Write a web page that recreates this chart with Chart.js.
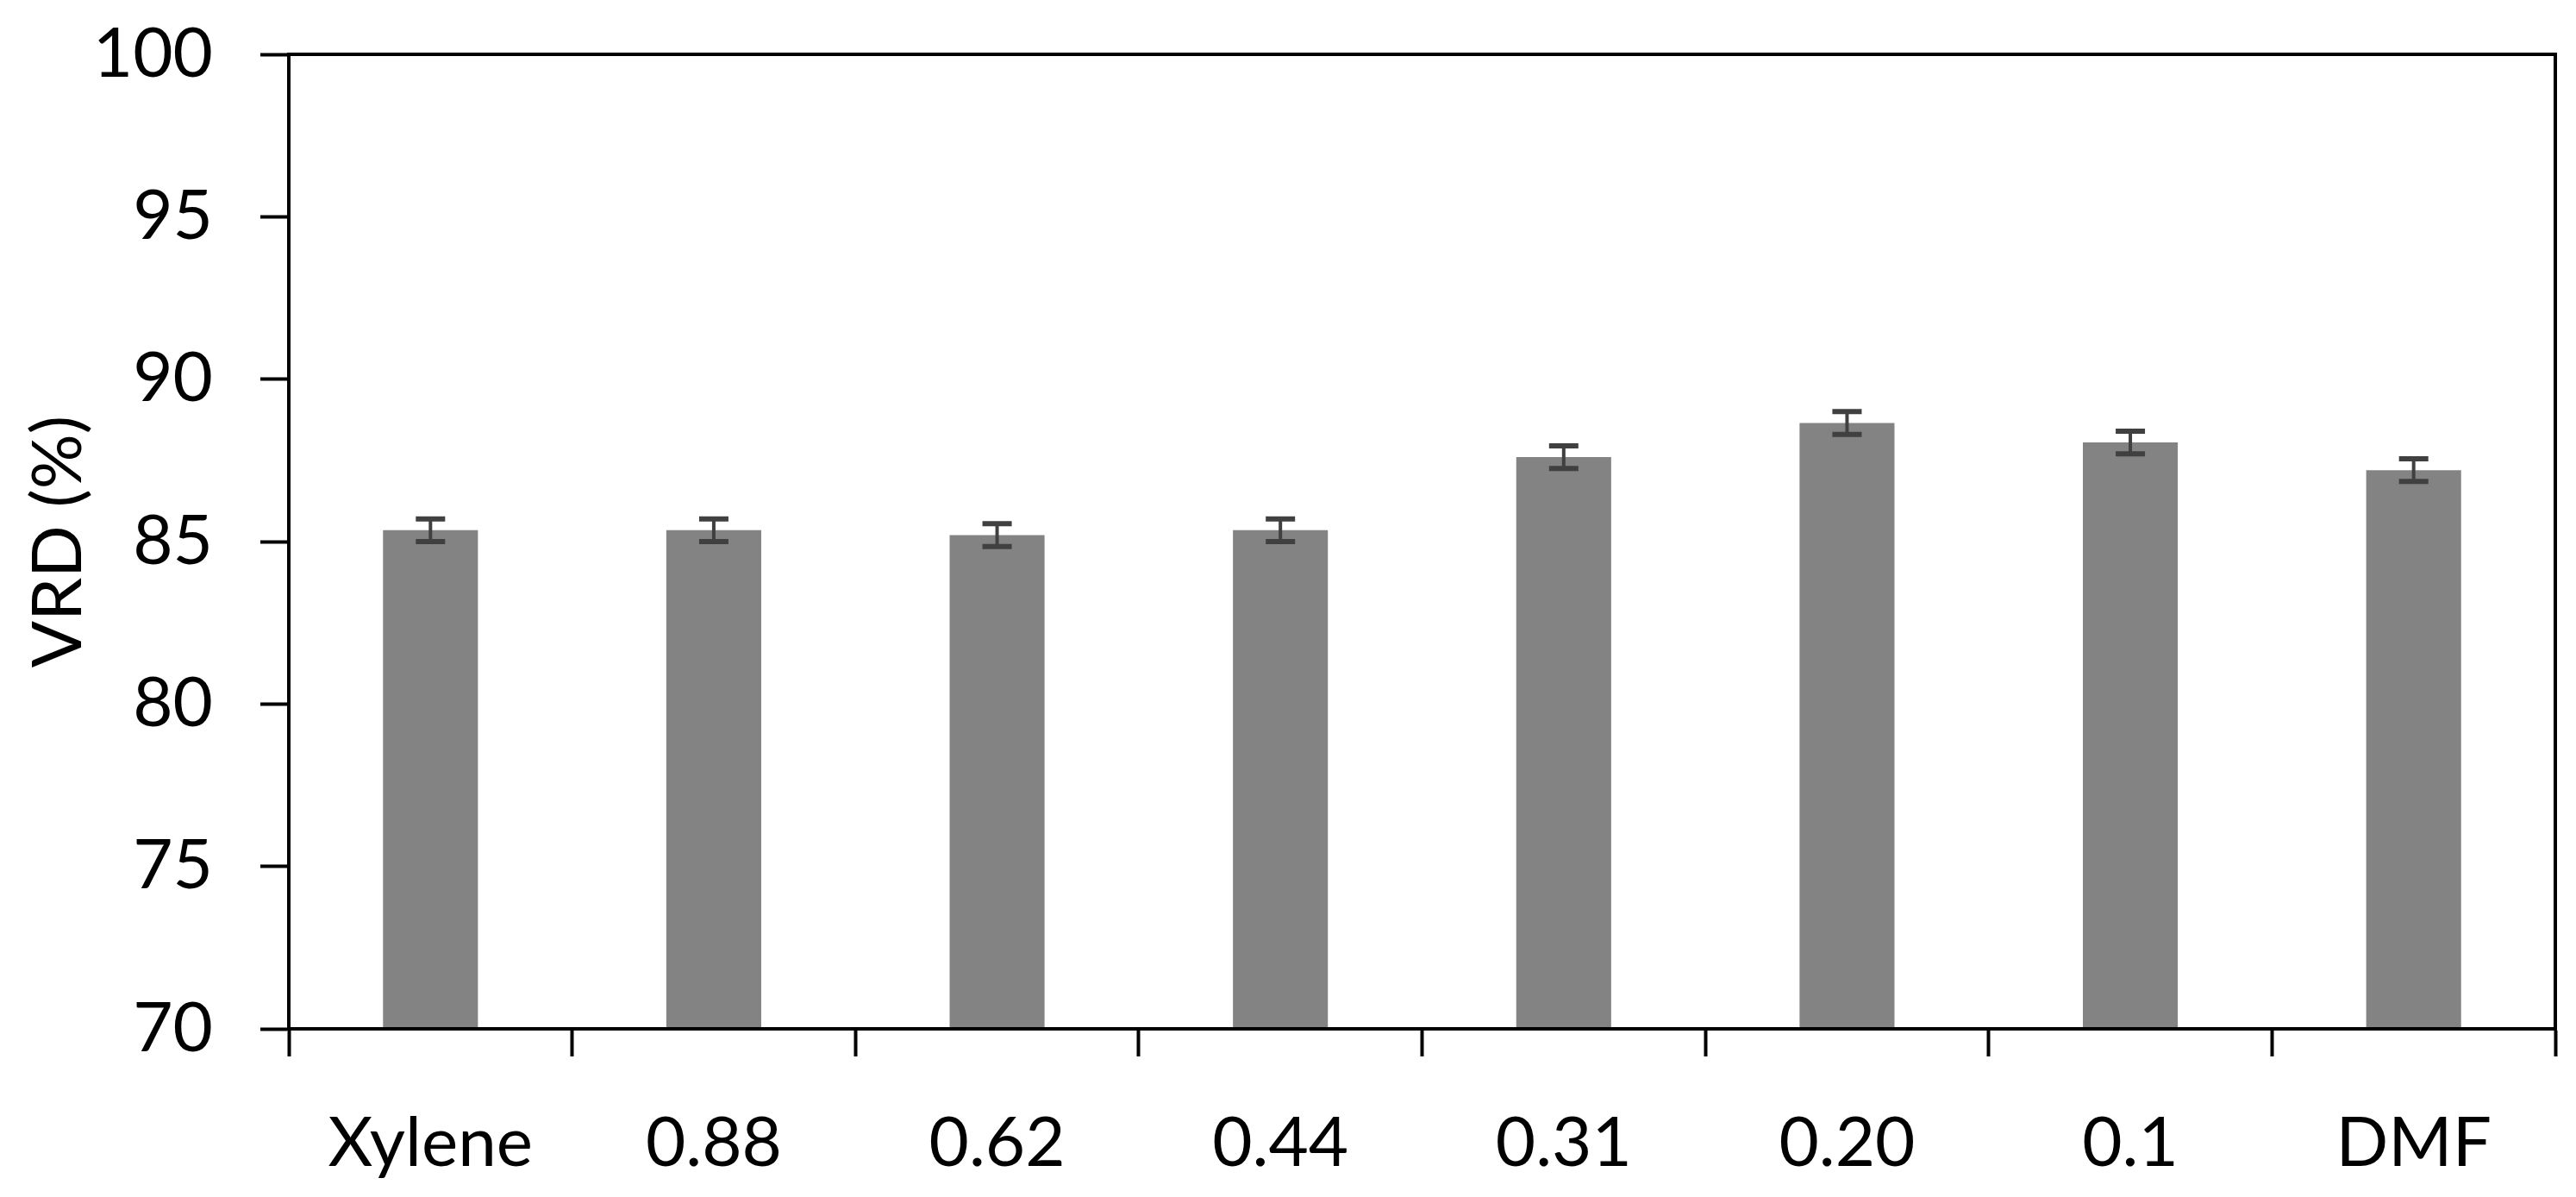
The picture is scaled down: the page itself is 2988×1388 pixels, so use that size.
<!DOCTYPE html>
<html>
<head>
<meta charset="utf-8">
<script src="https://cdn.jsdelivr.net/npm/chart.js@4.4.0/dist/chart.umd.min.js"></script>
<style>
  html, body { margin: 0; padding: 0; background: #fff; }
  #wrap { width: 2988px; height: 1388px; }
</style>
</head>
<body>
<div id="wrap"><canvas id="vrd"></canvas></div>
<script>
//data
var categorias = ['Xylene', '0.88', '0.62', '0.44', '0.31', '0.20', '0.1', 'DMF'];
var vrd = [85.35, 85.35, 85.2, 85.35, 87.6, 88.65, 88.05, 87.2];
var erro = [0.35, 0.35, 0.35, 0.35, 0.35, 0.35, 0.35, 0.35];
var yTicks = [70, 75, 80, 85, 90, 95, 100];

var fonte = "Lato, 'Open Sans', sans-serif";

//error bars drawn with the y scale
var errorBars = {
    id: 'errorBars',
    afterDatasetsDraw: function(chart){
        var ctx = chart.ctx;
        var y = chart.scales.y;
        var meta = chart.getDatasetMeta(0);
        ctx.save();
        ctx.strokeStyle = '#404040';
        ctx.lineWidth = 4;
        meta.data.forEach(function(bar, i){
            var top = y.getPixelForValue(vrd[i] + erro[i]);
            var bottom = y.getPixelForValue(vrd[i] - erro[i]);
            ctx.beginPath();
            ctx.moveTo(bar.x, top);
            ctx.lineTo(bar.x, bottom);
            ctx.stroke();
            ctx.lineWidth = 6;
            ctx.beginPath();
            ctx.moveTo(bar.x - 17, top);
            ctx.lineTo(bar.x + 17, top);
            ctx.moveTo(bar.x - 17, bottom);
            ctx.lineTo(bar.x + 17, bottom);
            ctx.stroke();
            ctx.lineWidth = 4;
        });
        ctx.restore();
    }
};

//frame around the plot area
var moldura = {
    id: 'moldura',
    afterDraw: function(chart){
        var a = chart.chartArea;
        var ctx = chart.ctx;
        ctx.save();
        ctx.strokeStyle = '#000';
        ctx.lineWidth = 4;
        ctx.strokeRect(a.left, a.top, a.right - a.left, a.bottom - a.top);
        ctx.restore();
    }
};

var ctx = document.getElementById('vrd').getContext('2d');
var myChart = new Chart(ctx, {
    type: 'bar',
    data: {
        labels: categorias,
        datasets: [{
            label: 'VRD (%)',
            data: vrd,
            backgroundColor: '#838383',
            borderWidth: 0,
            categoryPercentage: 1,
            barPercentage: 0.335
        }]
    },
    options: {
        responsive: true,
        maintainAspectRatio: false,
        animation: false,
        layout: {
            padding: { top: 63, right: 24, left: 0, bottom: 0 }
        },
        plugins: {
            legend: { display: false },
            tooltip: { enabled: false }
        },
        scales: {
            x: {
                afterFit: function(axis){
                    axis.height = 195;
                },
                grid: {
                    display: true,
                    drawOnChartArea: false,
                    drawTicks: true,
                    tickLength: 32,
                    tickWidth: 4,
                    color: '#000',
                    offset: true
                },
                border: { display: true, color: '#000', width: 4 },
                ticks: {
                    color: '#000',
                    padding: 53,
                    maxRotation: 0,
                    font: { family: fonte, size: 80 }
                }
            },
            y: {
                min: 70,
                max: 100,
                afterBuildTicks: function(axis){
                    axis.ticks = yTicks.map(function(v){ return { value: v }; });
                },
                afterFit: function(axis){
                    axis.width = 335;
                    axis.paddingTop = 0;
                    axis.paddingBottom = 0;
                },
                grid: {
                    display: true,
                    drawOnChartArea: false,
                    drawTicks: true,
                    tickLength: 33,
                    tickWidth: 4,
                    color: '#000'
                },
                border: { display: true, color: '#000', width: 4 },
                ticks: {
                    color: '#000',
                    padding: 55,
                    font: { family: fonte, size: 80 }
                },
                title: {
                    display: true,
                    text: 'VRD (%)',
                    color: '#000',
                    padding: { top: 20, bottom: 0 },
                    font: { family: fonte, size: 80 }
                }
            }
        }
    },
    plugins: [errorBars, moldura]
});
</script>
</body>
</html>
